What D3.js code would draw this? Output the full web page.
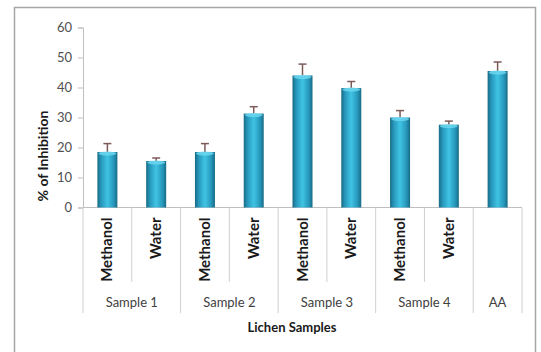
<!DOCTYPE html>
<html><head><meta charset="utf-8">
<script src="https://cdn.jsdelivr.net/npm/d3@7"></script>
<style>body{margin:0;background:#fff}svg{display:block}text{font-family:Lato,"Open Sans",sans-serif}</style>
</head><body><svg id="c" width="541" height="352"></svg>
<script>
const categories = ["Methanol","Water","Methanol","Water","Methanol","Water","Methanol","Water",""];
const groups = ["Sample 1","Sample 2","Sample 3","Sample 4","AA"];
const groupSizes = [2,2,2,2,1];
const values = [18.5,15.5,18.5,31.3,44,39.8,30,27.6,45.5];
const errors = [2.8,1,2.8,2.3,3.8,2.2,2.3,1.2,3];
const yTicks = [0,10,20,30,40,50,60];

const svg = d3.select("#c");
const L = 83, R = 522, T = 27.5, B = 207.5;
const x = d3.scaleBand().domain(d3.range(categories.length)).range([L,R]).padding(0);
const y = d3.scaleLinear().domain([0,60]).range([B,T]);

svg.append("rect").attr("x",14.5).attr("y",7.5).attr("width",521).attr("height",360)
  .attr("fill","#fff").attr("stroke","#a6a6a6").attr("stroke-width",1.5);

const defs = svg.append("defs");
const g = defs.append("linearGradient").attr("id","bg").attr("x1","0").attr("x2","1").attr("y1","0").attr("y2","0");
[[0,"#186a84"],[0.18,"#2696ba"],[0.5,"#40c4e4"],[0.82,"#2696ba"],[1,"#186a84"]]
  .forEach(s=>g.append("stop").attr("offset",s[0]).attr("stop-color",s[1]));

// y axis
const ya = svg.append("g").attr("transform",`translate(${L},0)`)
  .call(d3.axisLeft(y).tickValues(yTicks).tickSize(5).tickPadding(6));
ya.select(".domain").attr("stroke","#bfbfbf");
ya.selectAll(".tick line").attr("stroke","#bfbfbf");
ya.selectAll(".tick text").attr("fill","#505050").style("font-size","13px").style("font-family","Lato,sans-serif");

// x axis line
svg.append("line").attr("x1",L).attr("x2",R).attr("y1",B).attr("y2",B).attr("stroke","#bfbfbf");

// dividers
let boundaries = [0]; let acc = 0;
groupSizes.forEach(s=>{acc+=s;boundaries.push(acc);});
const step = x.step();
for (let i=0;i<=categories.length;i++){
  const full = boundaries.includes(i);
  svg.append("line").attr("x1",L+i*step).attr("x2",L+i*step).attr("y1",B).attr("y2",full?313:282)
    .attr("stroke","#d0d0d0");
}

// bars
const bw = step*0.41;
categories.forEach((c,i)=>{
  const cx = x(i)+x.bandwidth()/2;
  svg.append("line").attr("x1",cx).attr("x2",cx).attr("y1",y(values[i])).attr("y2",y(values[i]+errors[i]))
    .attr("stroke","#7d5a5a").attr("stroke-width",1.5);
  svg.append("line").attr("x1",cx-4).attr("x2",cx+4).attr("y1",y(values[i]+errors[i])).attr("y2",y(values[i]+errors[i]))
    .attr("stroke","#7d5a5a").attr("stroke-width",1.5);
  svg.append("rect").attr("x",cx-bw/2).attr("y",y(values[i])).attr("width",bw).attr("height",B-y(values[i]))
    .attr("fill","url(#bg)");
  svg.append("ellipse").attr("cx",cx).attr("cy",y(values[i])+1.5).attr("rx",bw/2-1).attr("ry",2)
    .attr("fill","#6fd8f0").attr("opacity",0.8);
  if (c) svg.append("text").attr("transform",`translate(${cx+5},${B+10}) rotate(-90)`)
    .attr("text-anchor","end").attr("fill","#1a1a1a").style("font-size","15px").style("font-weight","bold").text(c);
});

// group labels
let start = 0;
groups.forEach((gname,k)=>{
  const x0 = L+start*step, x1 = L+(start+groupSizes[k])*step;
  svg.append("text").attr("x",(x0+x1)/2).attr("y",307).attr("text-anchor","middle")
    .attr("fill","#404040").style("font-size","13px").text(gname);
  start += groupSizes[k];
});

svg.append("text").attr("x",292).attr("y",332).attr("text-anchor","middle").attr("fill","#1a1a1a")
  .style("font-size","13px").style("font-weight","bold").text("Lichen Samples");
svg.append("text").attr("transform","translate(48,156) rotate(-90)").attr("text-anchor","middle").attr("fill","#1a1a1a")
  .style("font-size","14px").style("font-weight","bold").text("% of Inhibition");
</script></body></html>
